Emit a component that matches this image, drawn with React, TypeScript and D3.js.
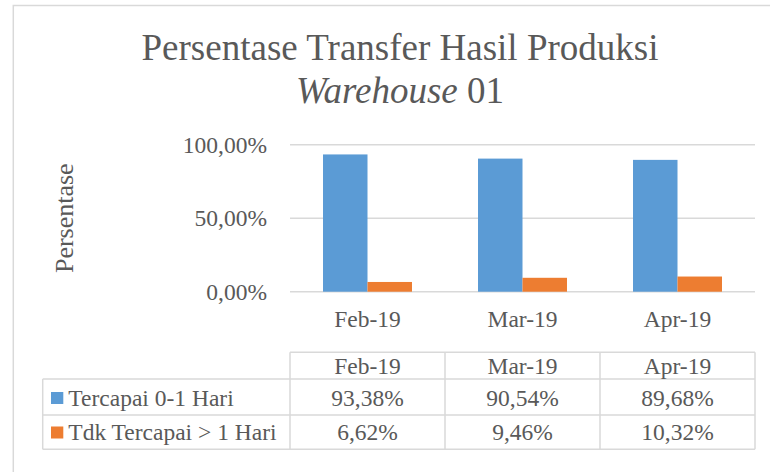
import React from 'react';
import * as d3 from 'd3';

const categories = ['Feb-19', 'Mar-19', 'Apr-19'];
const seriesNames = ['Tercapai 0-1 Hari', 'Tdk Tercapai > 1 Hari'];
const tercapai = [0.9338, 0.9054, 0.8968];
const tdkTercapai = [0.0662, 0.0946, 0.1032];
const tableLabels = [
  ['93,38%', '90,54%', '89,68%'],
  ['6,62%', '9,46%', '10,32%'],
];
const yTicks = [0, 0.5, 1];
const yTickLabels = ['0,00%', '50,00%', '100,00%'];
const colors = ['#5B9BD5', '#ED7D31'];

const W = 770;
const H = 472;
const font = '"Liberation Serif", "Times New Roman", serif';
const textColor = '#595959';
const lineColor = '#d9d9d9';

function App() {
  const values = [tercapai, tdkTercapai];

  const x = d3.scaleBand<string>().domain(categories).range([290, 755]);
  const x1 = d3
    .scaleBand<string>()
    .domain(seriesNames)
    .range([0, x.bandwidth()])
    .paddingOuter(0.742);
  const y = d3.scaleLinear().domain([0, 1]).range([291.7, 144.7]);

  // table rows (header, series 1, series 2)
  const rowEdges = [352.3, 379, 415, 449.3];
  const legendLeft = 42.7;

  return (
    <svg
      width={W}
      height={H}
      style={{ position: 'absolute', left: 0, top: 0, background: '#fff' }}
      fontFamily={font}
    >
      <rect x={13.3} y={5.5} width={W} height={H} fill="#fff" stroke={lineColor} strokeWidth={1.5} />

      {/* title */}
      <text x={400} y={60} textAnchor="middle" fontSize={37} fill={textColor}>
        Persentase Transfer Hasil Produksi
      </text>
      <text x={400} y={103} textAnchor="middle" fontSize={37} fill={textColor}>
        <tspan fontStyle="italic">Warehouse</tspan> 01
      </text>

      {/* y axis title */}
      <text
        transform={`translate(72.5, ${(y(0) + y(1)) / 2}) rotate(-90)`}
        textAnchor="middle"
        fontSize={26}
        fill={textColor}
      >
        Persentase
      </text>

      {/* gridlines and tick labels */}
      {yTicks.map((t, i) => (
        <g key={t}>
          <line x1={290} x2={755} y1={y(t)} y2={y(t)} stroke={lineColor} strokeWidth={1.5} />
          <text x={267} y={y(t) + 8} textAnchor="end" fontSize={23.5} fill={textColor}>
            {yTickLabels[i]}
          </text>
        </g>
      ))}

      {/* bars */}
      {categories.map((c, ci) => (
        <g key={c} transform={`translate(${x(c)},0)`}>
          {seriesNames.map((s, si) => (
            <rect
              key={s}
              x={x1(s)}
              y={y(values[si][ci])}
              width={x1.bandwidth()}
              height={y(0) - y(values[si][ci])}
              fill={colors[si]}
            />
          ))}
        </g>
      ))}

      {/* category labels */}
      {categories.map((c) => (
        <text
          key={c}
          x={(x(c) as number) + x.bandwidth() / 2}
          y={327.3}
          textAnchor="middle"
          fontSize={23.5}
          fill={textColor}
        >
          {c}
        </text>
      ))}

      {/* data table */}
      <g stroke={lineColor} strokeWidth={1.5}>
        <line x1={290} x2={755} y1={rowEdges[0]} y2={rowEdges[0]} />
        {rowEdges.slice(1).map((r) => (
          <line key={r} x1={legendLeft} x2={755} y1={r} y2={r} />
        ))}
        <line x1={legendLeft} x2={legendLeft} y1={rowEdges[1]} y2={rowEdges[3]} />
        {x.domain().map((c) => (
          <line key={c} x1={x(c)} x2={x(c)} y1={rowEdges[0]} y2={rowEdges[3]} />
        ))}
        <line x1={755} x2={755} y1={rowEdges[0]} y2={rowEdges[3]} />
      </g>

      {categories.map((c) => (
        <text
          key={c}
          x={(x(c) as number) + x.bandwidth() / 2}
          y={374}
          textAnchor="middle"
          fontSize={23.5}
          fill={textColor}
        >
          {c}
        </text>
      ))}

      {seriesNames.map((s, si) => {
        const base = si === 0 ? 405.5 : 440;
        return (
          <g key={s}>
            <rect x={51} y={base - 13.5} width={12.3} height={12} fill={colors[si]} />
            <text x={68.3} y={base} fontSize={23.5} fill={textColor}>
              {s}
            </text>
            {categories.map((c, ci) => (
              <text
                key={c}
                x={(x(c) as number) + x.bandwidth() / 2}
                y={base}
                textAnchor="middle"
                fontSize={23.5}
                fill={textColor}
              >
                {tableLabels[si][ci]}
              </text>
            ))}
          </g>
        );
      })}
    </svg>
  );
}

export default App;
